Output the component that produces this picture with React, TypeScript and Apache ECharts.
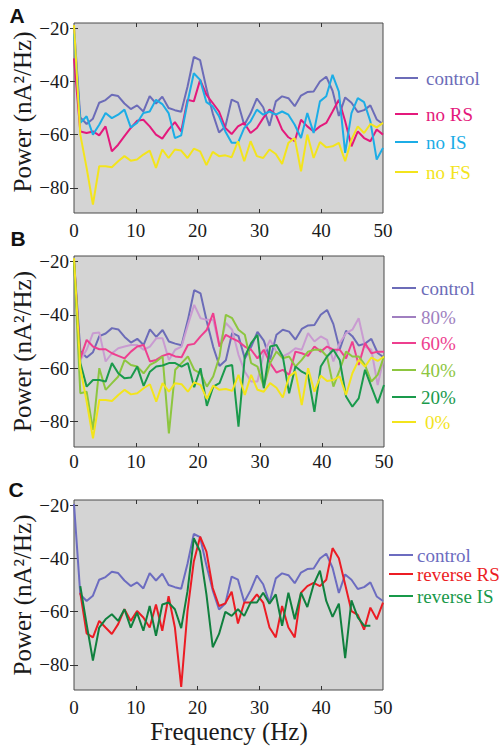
import React, { useEffect, useRef } from "react";
import * as echarts from "echarts";

// frequency bins (category index along the spectrum, 0 … 50 Hz)
const FREQ_BINS = [
  0, 1, 2, 3, 4, 5, 6, 7, 8, 9, 10, 11, 12, 13, 14, 15, 16, 17, 18, 19, 20, 21, 22, 23, 24,
  25, 26, 27, 28, 29, 30, 31, 32, 33, 34, 35, 36, 37, 38, 39, 40, 41, 42, 43, 44, 45, 46, 47, 48, 49,
];
const X_TICK_LABELS = [0, 10, 20, 30, 40, 50];
const Y_TICK_LABELS = [-80, -60, -40, -20];

const CONTROL = [
  -19.5, -53.5, -56, -54, -48, -47, -45, -45.5, -48.3, -50.4, -49, -51.3, -45.5, -48.3, -45.7, -50,
  -50.8, -51.4, -42, -30.8, -32, -42.6, -52, -59.2, -57, -46.8, -48, -56.4, -52, -46.4, -49.7, -56.7,
  -47.5, -45.6, -46.3, -49.3, -45.3, -44, -43.8, -40, -38.2, -43.5, -53, -46, -48, -51.5, -50.8, -49,
  -54.3, -56,
];
const NO_RS = [
  -31.3, -58.8, -59.4, -58.8, -60.3, -56.9, -66.3, -63.8, -60.6, -57.5, -54.8, -54.4, -56.9, -60, -61.5,
  -58.1, -55.3, -58.8, -46.9, -47.5, -39.4, -45, -48.1, -51.3, -57.5, -59.8, -56.9, -55.6, -59.4, -57.5,
  -53.8, -50.6, -52.5, -58.1, -61, -62.5, -54.4, -56.9, -58.8, -56.9, -55.6, -51.3, -46.9, -55, -64.4,
  -58.8, -61.3, -62.5, -58.1, -60,
];
const NO_IS = [
  -22, -55.6, -53.1, -60, -56.3, -51.9, -53.8, -52.5, -50.6, -57.3, -55.6, -51.9, -51.3, -46.9, -48.5,
  -51.9, -61.3, -60.3, -47.8, -36.9, -39.4, -47.8, -49.4, -53.1, -58.8, -63.1, -63.1, -57.5, -55, -50.6,
  -52.5, -51.3, -52.5, -51.3, -52.5, -56.3, -61.3, -51.9, -59.4, -47.5, -45.6, -37.5, -43.8, -66.9,
  -51.9, -46.3, -47.8, -55, -69.4, -65,
];
const NO_FS = [
  -18.8, -60, -72.5, -86.3, -71.9, -71.9, -72.3, -70, -68.1, -69.8, -69.4, -67.5, -66, -72.5, -65.6,
  -68.8, -65.6, -66, -68.8, -65.3, -66.3, -71.5, -66.5, -68.1, -67.8, -68.5, -62.5, -70, -62.5, -68.1,
  -68.8, -65.6, -67.3, -71, -63.1, -61.3, -73.8, -60, -68.8, -62.8, -64.8, -64.4, -63.1, -70, -61.9,
  -56.9, -59.4, -56, -57.3, -55.6,
];
const PCT_80 = [
  -20, -56.9, -53.1, -46.9, -46.6, -57.5, -54.4, -52.5, -51.9, -51.3, -51.3, -53.1, -51.9, -48.8, -48.8,
  -56.9, -53.1, -51.9, -43.8, -36.3, -41.3, -41.9, -41.9, -51.9, -43.1, -45.6, -55, -61.3, -65, -65,
  -54.4, -49.4, -53.8, -55.6, -54.4, -52.5, -53.1, -46.9, -50, -48.1, -49.4, -57.5, -50.6, -46.9, -45.6,
  -41.3, -51.9, -53.1, -66.3, -55.6,
];
const PCT_60 = [
  -20, -56.3, -49.4, -51.9, -52.9, -52.9, -54.4, -55.4, -56.3, -53.8, -51.9, -51.3, -57.5, -56.9, -55.4,
  -54.6, -55.6, -55.9, -51.3, -50.9, -48.1, -45.6, -39.4, -51.9, -47.5, -48.8, -50, -51.9, -53.1, -56.3,
  -53.1, -58.1, -61.6, -60.6, -62.5, -53.8, -54.4, -55.4, -51.9, -53.8, -51.9, -53.1, -53.1, -56.3, -50,
  -58.8, -50.6, -54.4, -53.8, -53.8,
];
const PCT_40 = [
  -20, -69.4, -68.8, -83.1, -60, -68.1, -65.6, -63.1, -56.9, -58.8, -59.4, -61.9, -58.8, -57.5, -55.6,
  -84.4, -60.6, -58.1, -55.6, -60.6, -61.9, -66.9, -63.1, -55.6, -40, -41.3, -45.6, -47.5, -58.1, -59.4,
  -66.9, -58.1, -53.8, -56.3, -55.6, -59.4, -56.9, -53.8, -53.1, -53.1, -55.6, -66.9, -60.6, -53.8,
  -55.6, -55.6, -58.8, -65, -62.5, -55.6,
];
const PCT_20 = [
  -20, -58.1, -66.9, -64.4, -64.4, -65, -58.1, -61.9, -63.8, -63.5, -59.4, -66.6, -61.3, -59.4, -59,
  -58.1, -58.1, -59.4, -58.1, -67.1, -60, -74.1, -66.9, -65.6, -59.4, -58.8, -81.9, -55.6, -50.6, -47.5,
  -67.5, -51.9, -51.3, -55.6, -69.4, -59.4, -61.3, -62.5, -76.3, -59.4, -55.6, -53.1, -56.9, -70.6,
  -74.4, -71.3, -60.6, -66.9, -73.1, -66.3,
];
const PCT_0 = NO_FS;
const REVERSE_RS = [
  null, -52.9, -68.2, -69.7, -63.5, -66, -68.4, -64.7, -59.1, -63.5, -59.8, -62.2, -66, -57.3, -67.2,
  -54.2, -66, -88.3, -59.8, -41.1, -31.8, -37.4, -51.1, -57.9, -56.9, -52.5, -64.5, -56.6, -56.6, -53.5,
  -56.6, -66, -69.7, -57.9, -66, -69.7, -52.9, -50.4, -49.2, -50.4, -48, -36.1, -39.9, -49.8, -59.8,
  -61.2, -66.8, -58.5, -62.9, -56.6,
];
const REVERSE_IS = [
  null, -50.4, -64.7, -78.4, -66, -62.9, -61, -63.5, -59.1, -66, -60.4, -67.2, -57.9, -69.1, -57.3,
  -56.6, -59.1, -66.2, -52.3, -32.4, -37.4, -53.5, -73.4, -68.4, -60.1, -61.6, -59.1, -61.6, -56.6,
  -56.6, -52.9, -57, -53.5, -65.3, -52.9, -62.9, -52.9, -58.3, -49.8, -44.6, -56, -62, -57, -77.5,
  -55.8, -62.2, -65.3, -65.3, null, null,
];

const PANELS = [
  {
    letter: "A",
    series: [
      { name: "control", data: CONTROL, color: "#6c6cb8" },
      { name: "no RS", data: NO_RS, color: "#e4197c" },
      { name: "no IS", data: NO_IS, color: "#1cade6" },
      { name: "no FS", data: NO_FS, color: "#f3e41c" },
    ],
  },
  {
    letter: "B",
    series: [
      { name: "control", data: CONTROL, color: "#6c6cb8" },
      { name: "80%", data: PCT_80, color: "#c99bd1", legendColor: "#a07fc0" },
      { name: "60%", data: PCT_60, color: "#ee3f8f" },
      { name: "40%", data: PCT_40, color: "#8dc63f" },
      { name: "20%", data: PCT_20, color: "#1a9a4c" },
      { name: "0%", data: PCT_0, color: "#f3e41c" },
    ],
  },
  {
    letter: "C",
    series: [
      { name: "control", data: CONTROL, color: "#6c6cc0" },
      { name: "reverse RS", data: REVERSE_RS, color: "#ec1c24" },
      { name: "reverse IS", data: REVERSE_IS, color: "#10803e", legendColor: "#18994a" },
    ],
  },
];

const SERIF = '"Liberation Serif", "Times New Roman", serif';

export default function App() {
  const ref = useRef<HTMLDivElement>(null);
  useEffect(() => {
    if (!ref.current) return;
    const chart = echarts.init(ref.current, null, { renderer: "svg" });

    const grids = [
      { left: 74, top: 23, width: 309, height: 190 },
      { left: 74, top: 256, width: 310, height: 191 },
      { left: 74, top: 500, width: 309, height: 190 },
    ];
    const xLabelMargin = [8, 5, 8];
    const legendLayout = [
      { x1: 395, x2: 418, tx: 426, ys: [78, 114, 142, 172] },
      { x1: 392, x2: 416, tx: 421, ys: [288, 317, 343, 370, 397, 422] },
      { x1: 389, x2: 413, tx: 417, ys: [555, 574, 596] },
    ];
    const letterPos = [
      { x: 17, y: 15 },
      { x: 18, y: 238 },
      { x: 16, y: 489 },
    ];

    const xAxis: any[] = [];
    const yAxis: any[] = [];
    const series: any[] = [];
    const graphic: any[] = [];

    PANELS.forEach((panel, i) => {
      const g = grids[i];
      const catIdx = xAxis.length;
      xAxis.push({
        type: "category",
        gridIndex: i,
        data: FREQ_BINS,
        boundaryGap: false,
        show: false,
      });
      xAxis.push({
        type: "value",
        gridIndex: i,
        position: "bottom",
        min: 0,
        max: 50,
        interval: 10,
        axisLine: { show: false },
        splitLine: { show: false },
        axisTick: {
          inside: true,
          length: 4,
          customValues: [10, 20, 30, 40],
          lineStyle: { color: "#333", width: 1 },
        },
        axisLabel: {
          customValues: X_TICK_LABELS,
          margin: xLabelMargin[i],
          fontSize: 19,
          fontFamily: SERIF,
          color: "#1a1a1a",
        },
      });
      xAxis.push({
        type: "value",
        gridIndex: i,
        position: "top",
        min: 0,
        max: 50,
        interval: 10,
        axisLine: { show: false },
        splitLine: { show: false },
        axisTick: {
          inside: true,
          length: 4,
          customValues: [10, 20, 30, 40],
          lineStyle: { color: "#333", width: 1 },
        },
        axisLabel: { show: false },
      });
      const yIdx = yAxis.length;
      yAxis.push({
        type: "value",
        gridIndex: i,
        position: "left",
        min: -89.5,
        max: -18,
        axisLine: { show: false },
        splitLine: { show: false },
        axisTick: {
          inside: true,
          length: 4,
          customValues: Y_TICK_LABELS,
          lineStyle: { color: "#333", width: 1 },
        },
        axisLabel: {
          customValues: Y_TICK_LABELS,
          margin: 5,
          fontSize: 19,
          fontFamily: SERIF,
          color: "#1a1a1a",
          formatter: (v: number) => (v < 0 ? "\u2212" + Math.abs(v) : String(v)),
        },
      });
      yAxis.push({
        type: "value",
        gridIndex: i,
        position: "right",
        min: -89.5,
        max: -18,
        axisLine: { show: false },
        splitLine: { show: false },
        axisTick: {
          inside: true,
          length: 4,
          customValues: Y_TICK_LABELS,
          lineStyle: { color: "#333", width: 1 },
        },
        axisLabel: { show: false },
      });

      panel.series.forEach((s: any) => {
        series.push({
          type: "line",
          name: panel.letter + " " + s.name,
          xAxisIndex: catIdx,
          yAxisIndex: yIdx,
          data: s.data,
          symbol: "none",
          connectNulls: false,
          lineStyle: { color: s.color, width: 2 },
          itemStyle: { color: s.color },
          z: 3,
        });
      });

      // legend
      const lay = legendLayout[i];
      panel.series.forEach((s: any, k: number) => {
        const c = s.legendColor || s.color;
        graphic.push({
          type: "line",
          shape: { x1: lay.x1, y1: lay.ys[k], x2: lay.x2, y2: lay.ys[k] },
          style: { stroke: c, lineWidth: 2 },
        });
        graphic.push({
          type: "text",
          x: lay.tx + (s.name === "0%" ? 4 : 0),
          y: lay.ys[k],
          style: {
            text: s.name,
            fill: c,
            font: "19px " + SERIF,
            textAlign: "left",
            textVerticalAlign: "middle",
          },
        });
      });

      // y-axis title
      graphic.push({
        type: "text",
        x: 22,
        y: g.top + g.height / 2 - (i === 0 ? 6 : 0),
        rotation: Math.PI / 2,
        style: {
          text: "Power (nA\u00B2/Hz)",
          fill: "#1a1a1a",
          font: "25px " + SERIF,
          textAlign: "center",
          textVerticalAlign: "middle",
        },
      });

      // panel letter
      graphic.push({
        type: "text",
        x: letterPos[i].x,
        y: letterPos[i].y,
        style: {
          text: panel.letter,
          fill: "#111",
          font: 'bold 21px "Liberation Sans", Arial, sans-serif',
          textAlign: "center",
          textVerticalAlign: "middle",
        },
      });
    });

    graphic.push({
      type: "text",
      x: 229,
      y: 731,
      style: {
        text: "Frequency (Hz)",
        fill: "#1a1a1a",
        font: "25px " + SERIF,
        textAlign: "center",
        textVerticalAlign: "middle",
      },
    });

    chart.setOption({
      animation: false,
      backgroundColor: "#ffffff",
      grid: grids.map((g) => ({
        ...g,
        show: true,
        backgroundColor: "#d4d4d4",
        borderColor: "#4a4a4a",
        borderWidth: 1,
      })),
      xAxis,
      yAxis,
      series,
      graphic,
    });

    return () => chart.dispose();
  }, []);

  return (
    <div
      ref={ref}
      style={{ position: "fixed", left: 0, top: 0, width: 502, height: 746 }}
    />
  );
}
